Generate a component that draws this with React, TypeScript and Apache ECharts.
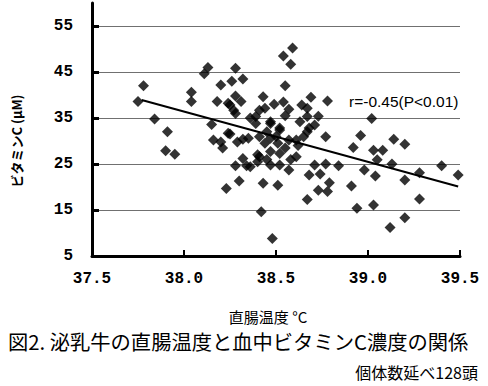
import React, { useEffect, useRef } from "react";
import * as echarts from "echarts";

// Rectal temperature (°C) and blood vitamin C (µM) per observation
const tempC: number[] = [
  37.78, 37.75, 37.84, 37.91, 37.9, 37.95, 38.04, 38.04, 38.13, 38.11,
  38.2, 38.18, 38.28, 38.26, 38.32, 38.28, 38.31, 38.25, 38.28, 38.15,
  38.16, 38.2, 38.25, 38.29, 38.32, 38.21, 38.32, 38.28, 38.34, 38.3,
  38.23, 38.24, 38.27, 38.24,
  38.59, 38.54, 38.58, 38.55, 38.43, 38.49, 38.54, 38.57, 38.64, 38.69,
  38.67, 38.78, 38.73, 38.41, 38.39, 38.47, 38.52, 38.68, 38.77, 38.39,
  38.47, 38.63, 38.67, 38.71, 38.67, 38.52, 38.41, 38.44, 38.47, 38.51,
  38.57, 38.61, 38.65, 38.4, 38.47, 38.52, 38.61, 38.4, 38.47, 38.52,
  38.57, 38.36, 38.71, 38.68, 38.43, 38.51, 38.42, 38.48, 38.41, 38.77,
  38.74, 38.79, 38.78, 38.73, 38.67, 38.84,
  39.02, 38.96, 38.92, 39.03, 39.08, 39.14, 39.2, 39.05, 39.13, 38.98,
  39.04, 39.2, 39.28, 39.4, 39.49, 38.91, 39.28, 38.94, 39.03, 39.2,
  39.12,
  38.35, 38.45, 38.5, 38.55, 38.58, 38.45, 38.62, 38.55, 38.44, 38.36,
];
const vitaminC: number[] = [
  42.0, 38.6, 34.8, 32.0, 27.9, 27.1, 40.6, 38.6, 46.0, 44.6,
  42.2, 38.6, 45.8, 43.0, 43.5, 39.8, 38.6, 37.8, 36.0, 33.6,
  30.2, 29.8, 31.5, 29.8, 30.4, 28.5, 26.2, 24.6, 24.6, 21.3,
  19.7, 38.2, 36.7, 31.7,
  50.2, 48.5, 46.7, 42.0, 39.6, 38.0, 38.5, 36.9, 37.8, 39.5,
  37.1, 38.7, 35.4, 36.7, 35.3, 34.2, 32.8, 32.8, 30.9, 33.8,
  33.8, 34.2, 35.3, 33.5, 32.0, 32.4, 30.9, 29.5, 30.6, 29.5,
  30.2, 30.2, 30.9, 27.0, 27.7, 27.3, 26.6, 25.5, 24.8, 24.8,
  23.7, 24.4, 24.8, 22.6, 20.8, 20.4, 14.6, 8.8, 26.6, 25.0,
  22.8, 20.9, 19.0, 19.3, 17.3, 24.6,
  34.9, 31.2, 28.6, 28.0, 28.0, 30.4, 29.3, 25.9, 25.0, 23.7,
  22.4, 21.5, 23.1, 24.6, 22.6, 20.2, 17.4, 15.4, 16.1, 13.3,
  11.2,
  30.6, 32.0, 31.0, 28.5, 26.0, 26.0, 29.0, 35.5, 37.1, 35.0,
];

// Regression line end points
const regTemp: number[] = [37.77, 39.49];
const regVit: number[] = [38.9, 20.1];

const xTicks: number[] = [37.5, 38.0, 38.5, 39.0, 39.5];
const yTicks: number[] = [5, 15, 25, 35, 45, 55];

const corrText = "r=-0.45(P<0.01)";
const yTitle = "ビタミンC (μM)";
const xTitle = "直腸温度 °C";
const figTitle = "図2. 泌乳牛の直腸温度と血中ビタミンC濃度の関係";
const noteText = "個体数延べ128頭";

export default function App() {
  const ref = useRef<HTMLDivElement>(null);
  useEffect(() => {
    if (!ref.current) return;
    const chart = echarts.init(ref.current, null, { renderer: "svg" });
    const points = tempC.map((t, i) => [t, vitaminC[i]]);
    const reg = regTemp.map((t, i) => [t, regVit[i]]);
    const numFont = "'Liberation Mono', 'DejaVu Sans Mono', monospace";
    const jpFont = "'Noto Sans CJK JP', sans-serif";
    chart.setOption({
      animation: false,
      backgroundColor: "#fff",
      grid: { left: 92, right: 28, top: 3, bottom: 130, containLabel: false },
      xAxis: {
        type: "value",
        min: xTicks[0],
        max: xTicks[xTicks.length - 1],
        interval: 0.5,
        axisLine: { show: true, onZero: false, lineStyle: { color: "#000", width: 3 } },
        axisTick: { show: true, inside: true, length: 6, lineStyle: { color: "#000", width: 2 } },
        axisLabel: {
          formatter: (v: number) => v.toFixed(1),
          fontFamily: numFont,
          fontWeight: "bold",
          fontSize: 16,
          color: "#000",
          margin: 15,
        },
        splitLine: { show: false },
      },
      yAxis: {
        type: "value",
        min: yTicks[0],
        max: 60,
        interval: 10,
        axisLine: { show: true, onZero: false, lineStyle: { color: "#000", width: 3 } },
        axisTick: { show: true, inside: true, length: 7, lineStyle: { color: "#000", width: 3 } },
        axisLabel: {
          showMaxLabel: false,
          fontFamily: numFont,
          fontWeight: "bold",
          fontSize: 16,
          color: "#000",
          margin: 19,
        },
        splitLine: {
          show: true,
          showMinLine: false,
          showMaxLine: false,
          lineStyle: { color: "#707070", width: 1 },
        },
      },
      series: [
        {
          type: "scatter",
          data: points,
          symbol: "diamond",
          symbolSize: 11,
          itemStyle: { color: "#000" },
          z: 3,
        },
        {
          type: "line",
          data: reg,
          symbol: "none",
          lineStyle: { color: "#000", width: 2 },
          z: 4,
        },
      ],
      graphic: [
        {
          type: "text",
          x: 349,
          y: 101,
          style: {
            text: corrText,
            font: "15.5px 'Liberation Sans', Arial, sans-serif",
            fill: "#000",
            textAlign: "left",
            textVerticalAlign: "middle",
          },
          z: 10,
        },
        {
          type: "text",
          x: 16,
          y: 141,
          rotation: Math.PI / 2,
          style: {
            text: yTitle,
            font: `bold 13px ${jpFont}`,
            fill: "#000",
            textAlign: "center",
            textVerticalAlign: "middle",
          },
        },
        {
          type: "text",
          x: 268,
          y: 316,
          style: {
            text: xTitle,
            font: `15px ${jpFont}`,
            lineHeight: 15,
            fill: "#000",
            textAlign: "center",
            textVerticalAlign: "middle",
          },
        },
        {
          type: "text",
          x: 8,
          y: 341,
          style: {
            text: figTitle,
            font: `20.3px ${jpFont}`,
            lineHeight: 20,
            fill: "#000",
            textAlign: "left",
            textVerticalAlign: "middle",
          },
        },
        {
          type: "text",
          x: 478,
          y: 372,
          style: {
            text: noteText,
            font: `16px ${jpFont}`,
            lineHeight: 16,
            fill: "#000",
            textAlign: "right",
            textVerticalAlign: "middle",
          },
        },
      ],
    });
    return () => chart.dispose();
  }, []);
  return (
    <div
      ref={ref}
      style={{ position: "fixed", left: 0, top: 0, width: 488, height: 386 }}
    />
  );
}
